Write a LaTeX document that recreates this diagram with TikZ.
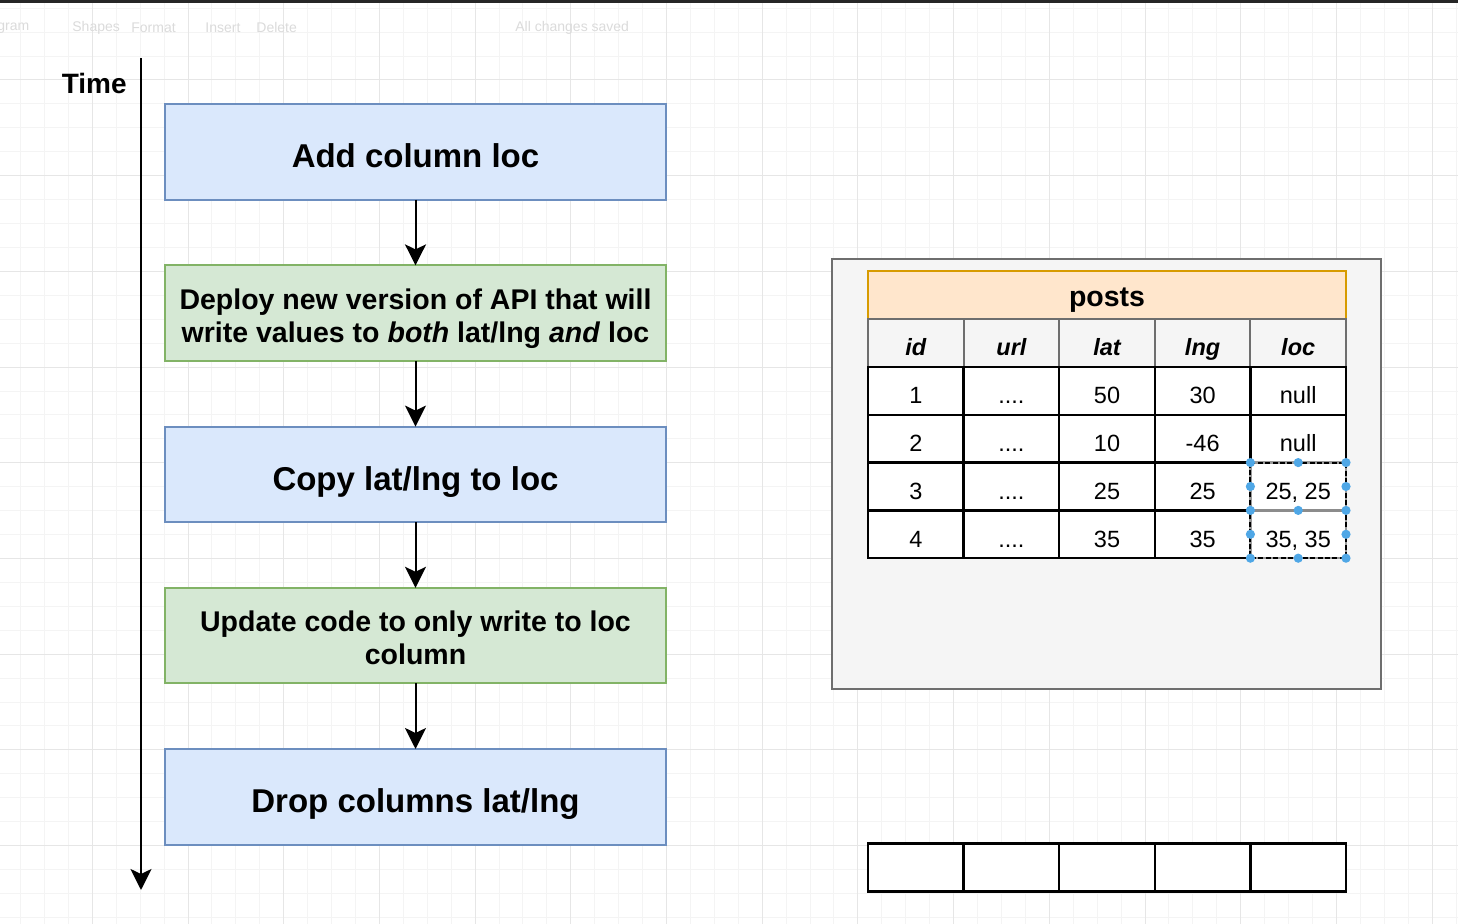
\documentclass[tikz,border=0pt]{standalone}
\usepackage{fontspec}
\setmainfont{Liberation Sans}
\usepackage[HTML]{xcolor}
\usetikzlibrary{positioning, arrows.meta}

\definecolor{stepblue}{HTML}{DAE8FC}
\definecolor{stepblueline}{HTML}{6C8EBF}
\definecolor{stepgreen}{HTML}{D5E8D4}
\definecolor{stepgreenline}{HTML}{82B366}
\definecolor{postsfill}{HTML}{FFE6CC}
\definecolor{postsline}{HTML}{D79B00}
\definecolor{panelfill}{HTML}{F5F5F5}
\definecolor{panelline}{HTML}{6E6E6E}
\definecolor{handle}{HTML}{4FA7E6}
\definecolor{gridminor}{HTML}{F4F4F4}
\definecolor{gridmajor}{HTML}{E6E6E6}

\newcommand{\urldots}{....}

\tikzset{
  stepbox/.style={draw, line width=1pt, minimum width=250.5pt, minimum height=47.8pt,
    inner sep=0pt, outer sep=0pt, align=center, text height=15.8pt, text depth=0pt,
    font=\bfseries\fontsize{16.5}{19}\selectfont},
  blue step/.style={stepbox, fill=stepblue, draw=stepblueline},
  green step/.style={stepbox, fill=stepgreen, draw=stepgreenline, text height=29.2pt, text depth=0pt,
    font=\bfseries\fontsize{14.25}{16.5}\selectfont},
  flow/.style={line width=1pt, -{Stealth[length=10.5pt, width=10.5pt, inset=2.5pt]}},
  headcell/.style={draw=panelline, fill=panelfill, line width=1pt, minimum width=47.8pt,
    minimum height=23.9pt, inner sep=0pt, outer sep=0pt, text height=12.8pt, text depth=0pt,
    font=\bfseries\itshape\fontsize{11.75}{14}\selectfont},
  datacell/.style={draw=black, fill=white, line width=1.25pt, minimum width=47.8pt,
    minimum height=23.9pt, inner sep=0pt, outer sep=0pt, text height=12.8pt, text depth=0pt,
    font=\fontsize{11.75}{14}\selectfont},
  toolbar text/.style={text=black!14, inner sep=0pt, anchor=west, font=\fontsize{7}{8}\selectfont}
}

\begin{document}
\begin{tikzpicture}[x=0.5pt, y=-0.5pt]
\useasboundingbox (0,0) rectangle (1458,924);
\fill[white] (0,0) rectangle (1458,924);
% background grid
\foreach \i in {-4,...,57}
  \draw[gridminor, line width=0.5pt] ({92.3+\i*23.925},0) -- ({92.3+\i*23.925},924);
\foreach \j in {-4,...,35}
  \draw[gridminor, line width=0.5pt] (0,{80+\j*23.925}) -- (1458,{80+\j*23.925});
\foreach \i in {-1,...,14}
  \draw[gridmajor, line width=0.5pt] ({92.3+\i*95.7},0) -- ({92.3+\i*95.7},924);
\foreach \j in {-1,...,9}
  \draw[gridmajor, line width=0.5pt] (0,{80+\j*95.7}) -- (1458,{80+\j*95.7});

% toolbar
\fill[black!85] (0,0) rectangle (1458,3);
\node[toolbar text] (tbdiagram) at (-3,28) {gram};
\node[toolbar text] (tbshapes) at (72,28) {Shapes};
\node[toolbar text] (tbformat) at (131,28) {Format};
\node[toolbar text] (tbinsert) at (205,28) {Insert};
\node[toolbar text] (tbdelete) at (256,28) {Delete};
\node[toolbar text] (tbsaved) at (515,28) {All changes saved};

% time axis
\coordinate (timetop) at (141,58);
\coordinate (timeend) at (141,890);
\draw[flow] (timetop) -- (timeend);
\node[anchor=east, inner sep=0pt, font=\bfseries\fontsize{14}{16}\selectfont] (timelabel) at (127,83) {Time};

% migration steps
\node[blue step] (addcol) at (415.5,152) {Add column loc};
\node[green step, below=32.8pt of addcol] (deploy) {Deploy new version of API that will\\write values to \textit{both} lat/lng \textit{and} loc};
\node[blue step, below=32.8pt of deploy] (copy) {Copy lat/lng to loc};
\node[green step, below=32.8pt of copy] (update) {Update code to only write to loc\\column};
\node[blue step, below=32.8pt of update] (drop) {Drop columns lat/lng};

\draw[flow] (addcol) -- (deploy);
\draw[flow] (deploy) -- (copy);
\draw[flow] (copy) -- (update);
\draw[flow] (update) -- (drop);

% posts table
\node[draw=panelline, fill=panelfill, line width=1pt, minimum width=274.5pt, minimum height=215pt, inner sep=0pt] (panel) at (1106.5,474) {};
\node[draw=postsline, fill=postsfill, line width=1pt, minimum width=239pt, minimum height=23.9pt, inner sep=0pt,
  text height=11.4pt, text depth=0pt, font=\bfseries\fontsize{14.25}{16}\selectfont] (posts) at (1107,295) {posts};
\foreach \name [count=\c] in {id,url,lat,lng,loc}
  \node[headcell] (head\c) at ({868+(\c-0.5)*95.6},343) {\name};
\foreach \row [count=\r] in {{1,\urldots,50,30,null},{2,\urldots,10,-46,null},{3,\urldots,25,25,{25, 25}},{4,\urldots,35,35,{35, 35}}}
  \foreach \val [count=\c] in \row
    \node[datacell] (cell\r\c) at ({868+(\c-0.5)*95.6},{367+(\r-0.5)*47.8}) {\val};

% selected loc cells
\draw[black!40, line width=1.25pt] (cell35.north west) rectangle (cell45.south east);
\draw[black, line width=1pt, dash pattern=on 2.5pt off 1.2pt] (cell35.north west) rectangle (cell45.south east);
\draw[black!45, line width=1.25pt] (cell35.south west) -- (cell35.south east);
\foreach \p in {cell35.north west, cell35.north, cell35.north east, cell35.west, cell35.east,
  cell35.south west, cell35.south, cell35.south east, cell45.west, cell45.east,
  cell45.south west, cell45.south, cell45.south east}
  \fill[handle] (\p) circle (2.3pt);

% empty row
\foreach \c in {1,...,5}
  \node[datacell] (blank\c) at ({868+(\c-0.5)*95.6},867.5) {};
\end{tikzpicture}
\end{document}
